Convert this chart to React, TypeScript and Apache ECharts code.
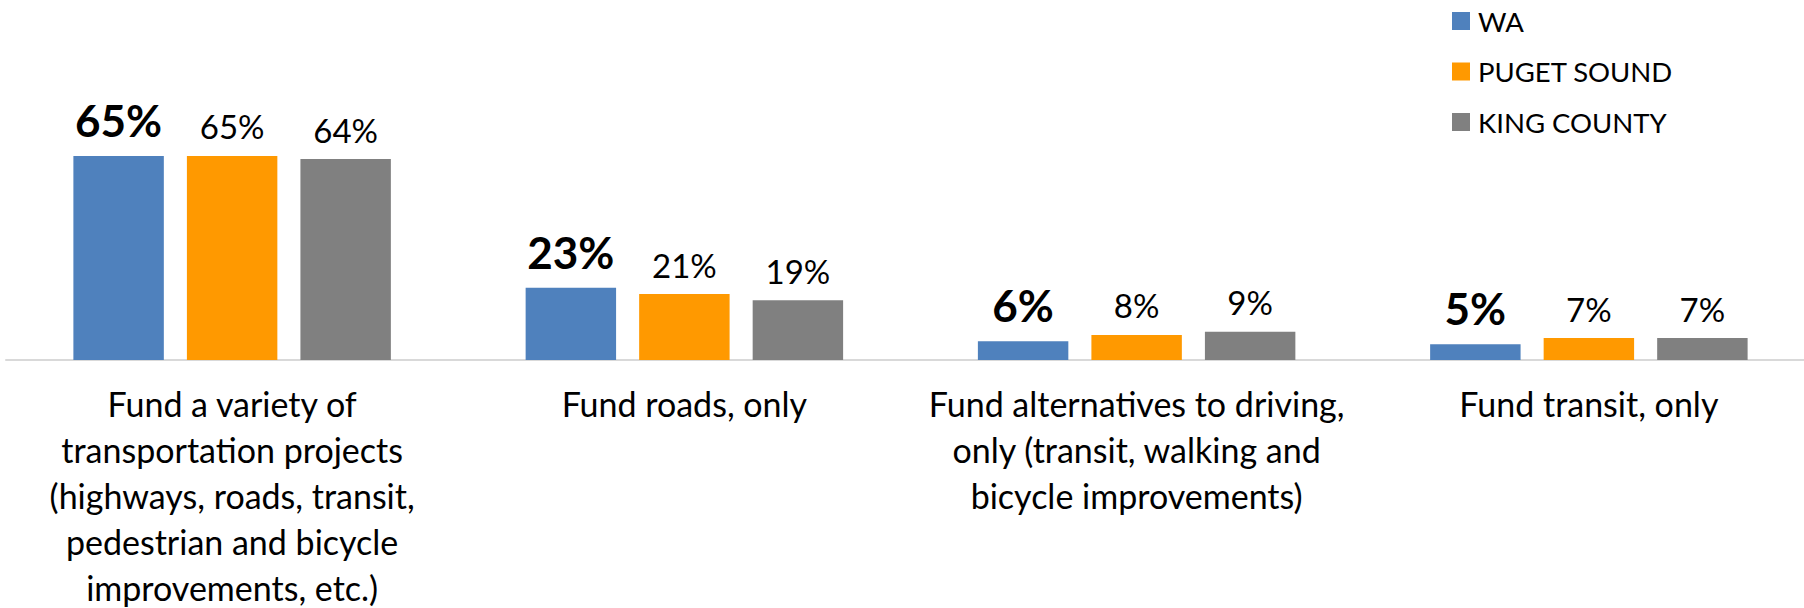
import React, { useEffect, useRef } from "react";
import * as echarts from "echarts";

const categories = [
  "Fund a variety of\ntransportation projects\n(highways, roads, transit,\npedestrian and bicycle\nimprovements, etc.)",
  "Fund roads, only",
  "Fund alternatives to driving,\nonly (transit, walking and\nbicycle improvements)",
  "Fund transit, only",
];
const seriesNames = ["WA", "PUGET SOUND", "KING COUNTY"];
const waValues = [65, 23, 6, 5];
const pugetValues = [65, 21, 8, 7];
const kingValues = [64, 19, 9, 7];
const colors = ["#4F81BD", "#FF9900", "#808080"];

const FONT = "Lato, 'Open Sans', sans-serif";

export default function App() {
  const ref = useRef<HTMLDivElement>(null);
  useEffect(() => {
    if (!ref.current) return;
    const chart = echarts.init(ref.current, undefined, { renderer: "svg" });
    const values = [waValues, pugetValues, kingValues];
    chart.setOption({
      animation: false,
      textStyle: { fontFamily: FONT },
      legend: {
        orient: "vertical",
        left: 1452,
        top: 6,
        padding: 0,
        itemWidth: 18,
        itemHeight: 18,
        itemGap: 20.5,
        icon: "rect",
        data: seriesNames,
        textStyle: {
          fontFamily: FONT,
          fontSize: 27.5,
          lineHeight: 30,
          color: "#000",
          padding: [0, 0, 0, 3],
        },
      },
      grid: {
        left: 6,
        right: 5,
        top: 46,
        bottom: 248,
        containLabel: false,
        outerBoundsMode: "none",
      },
      xAxis: {
        type: "category",
        data: categories,
        axisLine: { lineStyle: { color: "#D9D9D9", width: 2 } },
        axisTick: { show: false },
        axisLabel: {
          interval: 0,
          color: "#000",
          fontFamily: FONT,
          fontSize: 34,
          lineHeight: 46,
          margin: 20,
          align: "center",
        },
      },
      yAxis: { type: "value", min: 0, max: 100, show: false, splitLine: { show: false } },
      series: seriesNames.map((name, i) => ({
        name,
        type: "bar",
        data: values[i],
        barGap: "25.5%",
        barCategoryGap: "29.8%",
        itemStyle: { color: colors[i] },
        label: {
          show: true,
          position: "top",
          distance: i === 0 ? 14 : 13,
          formatter: "{c}%",
          color: "#000",
          fontFamily: FONT,
          fontSize: i === 0 ? 44 : 33,
          fontWeight: i === 0 ? "bold" : "normal",
        },
      })),
    });
    return () => chart.dispose();
  }, []);
  return (
    <div
      style={{
        position: "absolute",
        left: 0,
        top: 0,
        width: 1804,
        height: 608,
        overflow: "hidden",
      }}
    >
      <div ref={ref} style={{ width: 1820, height: 608 }} />
    </div>
  );
}
